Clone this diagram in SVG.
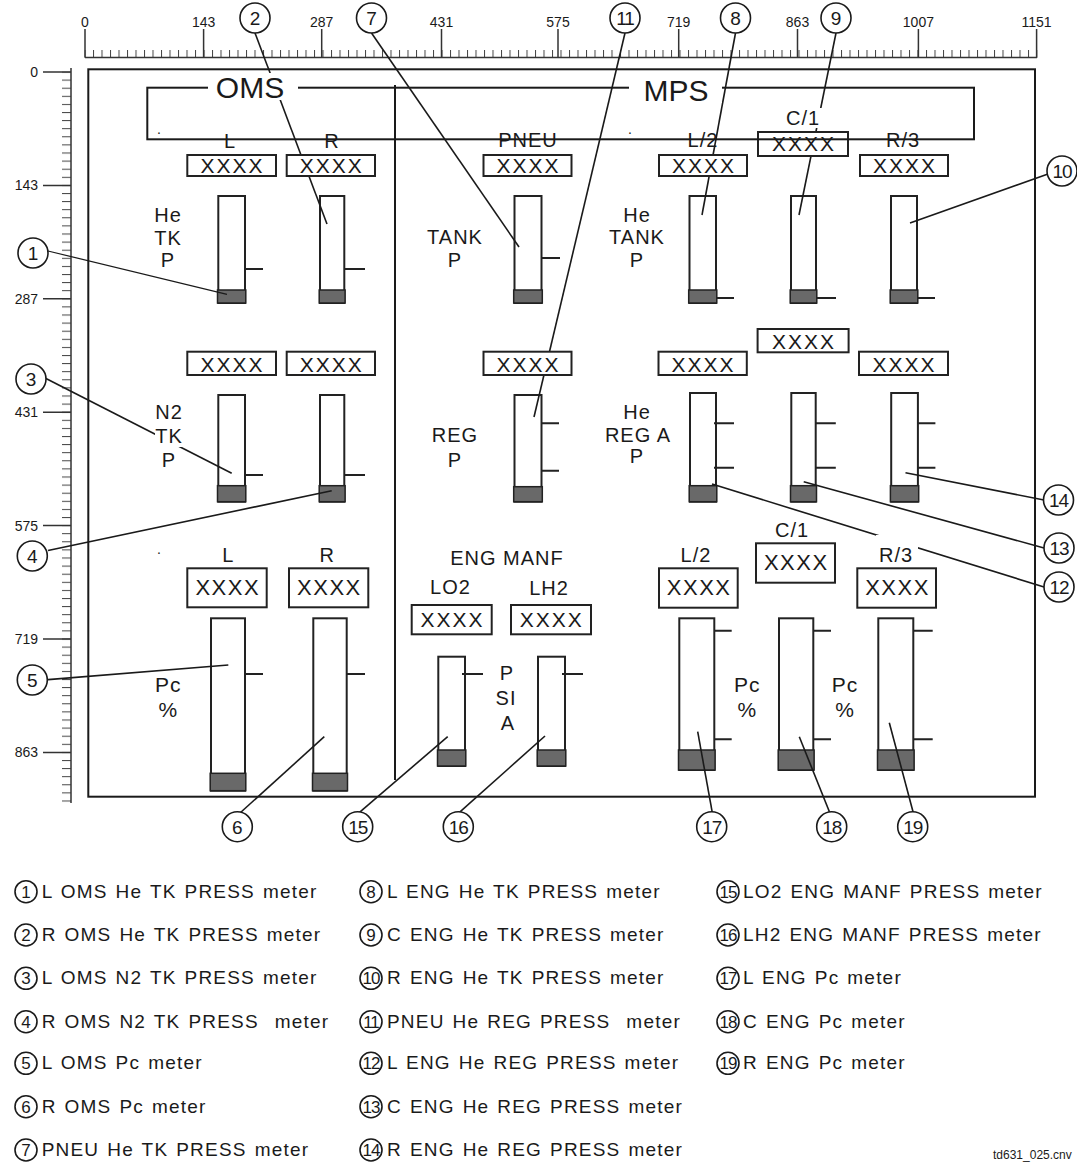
<svg xmlns="http://www.w3.org/2000/svg" width="1077" height="1164" viewBox="0 0 1077 1164">
<style>
.t{font-family:"Liberation Sans",Arial,sans-serif;fill:#1a1a1a}
.rl{font-size:14px;text-anchor:middle}
.rv{font-size:14px;text-anchor:end}
.lb{font-size:20px;text-anchor:middle;letter-spacing:1px}
.big{font-size:30px;text-anchor:middle}
.xx{font-size:21px;text-anchor:middle;letter-spacing:2px}
.xl{font-size:22px;text-anchor:middle;letter-spacing:1.5px}
.cn{font-size:19px;text-anchor:middle}
.cs{font-size:17px;text-anchor:middle;letter-spacing:-1px}
.lg{font-size:19px;letter-spacing:1.2px;word-spacing:1.5px;white-space:pre}
.fr{fill:none;stroke:#1a1a1a;stroke-width:2}
.m{fill:#fff;stroke:#222;stroke-width:2}
.d{fill:#696969;stroke:#222;stroke-width:1.5}
.bx{fill:#fff;stroke:#222;stroke-width:2}
.tk{stroke:#222;stroke-width:2}
.ld{stroke:#1a1a1a;stroke-width:1.6;fill:none}
.c{fill:#fff;stroke:#1a1a1a;stroke-width:1.6}
.rk{stroke:#333;stroke-width:1.5}
</style>
<defs>
<pattern id="tkx" patternUnits="userSpaceOnUse" x="84.5" y="0" width="8.5" height="1164"><rect x="0" y="0" width="1" height="1164" fill="#444"/></pattern>
<pattern id="tky" patternUnits="userSpaceOnUse" x="0" y="71.5" width="1077" height="8.1"><rect x="0" y="0" width="1077" height="1" fill="#444"/></pattern>
</defs>
<rect width="1077" height="1164" fill="#fff"/>

<g id="ruler-top">
<rect x="84.5" y="50" width="953" height="8" fill="url(#tkx)"/>
<path class="rk" d="M85 57.5H1037 M85 29V57.5 M203.6 29V57.5 M321.7 29V57.5 M441.5 29V57.5 M558 29V57.5 M678.7 29V57.5 M797.5 29V57.5 M918.4 29V57.5 M1036.6 29V57.5"/>
<text class="t rl" x="85" y="27">0</text>
<text class="t rl" x="203.6" y="27">143</text>
<text class="t rl" x="321.7" y="27">287</text>
<text class="t rl" x="441.5" y="27">431</text>
<text class="t rl" x="558" y="27">575</text>
<text class="t rl" x="678.7" y="27">719</text>
<text class="t rl" x="797.5" y="27">863</text>
<text class="t rl" x="918.4" y="27">1007</text>
<text class="t rl" x="1036.6" y="27">1151</text>
</g>

<g id="ruler-left">
<rect x="62" y="71.5" width="9" height="731" fill="url(#tky)"/>
<path class="rk" d="M71 68V803 M43 72H71 M43 185.4H71 M43 298.8H71 M43 412.2H71 M43 525.6H71 M43 639H71 M43 752.4H71"/>
<text class="t rv" x="38" y="77">0</text>
<text class="t rv" x="38" y="190.4">143</text>
<text class="t rv" x="38" y="303.8">287</text>
<text class="t rv" x="38" y="417.2">431</text>
<text class="t rv" x="38" y="530.6">575</text>
<text class="t rv" x="38" y="644">719</text>
<text class="t rv" x="38" y="757.4">863</text>
</g>

<g id="panel">
<rect class="fr" x="88.3" y="69.3" width="946.7" height="727.4"/>
<line class="fr" x1="395" y1="85" x2="395" y2="780"/>
</g>

<g id="meters">
<g id="oms-he-l"><rect class="m" x="218.3" y="196" width="26.7" height="107"/><rect class="d" x="217.5" y="290" width="28.3" height="13"/><path class="tk" d="M245 269H263"/></g>
<g id="oms-he-r"><rect class="m" x="320" y="196" width="24.3" height="107"/><rect class="d" x="319.2" y="290" width="25.9" height="13"/><path class="tk" d="M344.3 269H365"/></g>
<g id="oms-n2-l"><rect class="m" x="218.3" y="395" width="26.7" height="106.7"/><rect class="d" x="217.5" y="485.7" width="28.3" height="16"/><path class="tk" d="M245 475H263"/></g>
<g id="oms-n2-r"><rect class="m" x="320" y="395" width="24.3" height="106.7"/><rect class="d" x="319.2" y="485.7" width="25.9" height="16"/><path class="tk" d="M344.3 475H365"/></g>
<g id="pneu-tank"><rect class="m" x="514.5" y="196" width="27" height="107"/><rect class="d" x="513.7" y="290" width="28.6" height="13"/><path class="tk" d="M541.5 258H560"/></g>
<g id="pneu-reg"><rect class="m" x="514.5" y="395" width="27" height="106.7"/><rect class="d" x="513.7" y="486.7" width="28.6" height="15"/><path class="tk" d="M541.5 423.3H559 M541.5 470.7H559"/></g>
<g id="mps-he-l"><rect class="m" x="689.5" y="196" width="26.5" height="107"/><rect class="d" x="688.7" y="290" width="28.1" height="13"/><path class="tk" d="M716 298H734"/></g>
<g id="mps-he-c"><rect class="m" x="791" y="196" width="25" height="107"/><rect class="d" x="790.2" y="290" width="26.6" height="13"/><path class="tk" d="M816 298H836"/></g>
<g id="mps-he-r"><rect class="m" x="891" y="196" width="26" height="107"/><rect class="d" x="890.2" y="290" width="27.6" height="13"/><path class="tk" d="M917 298H935"/></g>
<g id="mps-reg-l"><rect class="m" x="690" y="393" width="26" height="108.7"/><rect class="d" x="689.2" y="485.7" width="27.6" height="16"/><path class="tk" d="M714 423.3H734 M714 467.7H734"/></g>
<g id="mps-reg-c"><rect class="m" x="791.3" y="393" width="24.4" height="108.7"/><rect class="d" x="790.5" y="485.7" width="26" height="16"/><path class="tk" d="M815.7 423.3H835.8 M815.7 467.7H835.8"/></g>
<g id="mps-reg-r"><rect class="m" x="891.2" y="393" width="26.7" height="108.7"/><rect class="d" x="890.4" y="485.7" width="28.3" height="16"/><path class="tk" d="M918 423.3H935.4 M918 467.7H935.4"/></g>
<g id="oms-pc-l"><rect class="m" x="211" y="618.3" width="34" height="172.4"/><rect class="d" x="210.2" y="773.3" width="35.6" height="17.4"/><path class="tk" d="M245 674H263"/></g>
<g id="oms-pc-r"><rect class="m" x="313.3" y="618.3" width="33.4" height="172.4"/><rect class="d" x="312.5" y="773.3" width="35" height="17.4"/><path class="tk" d="M346.7 674H365"/></g>
<g id="manf-lo2"><rect class="m" x="438.3" y="656.7" width="26.7" height="109.3"/><rect class="d" x="437.5" y="750" width="28.3" height="16"/><path class="tk" d="M462 674H483"/></g>
<g id="manf-lh2"><rect class="m" x="538" y="656.7" width="27" height="109.3"/><rect class="d" x="537.2" y="750" width="28.6" height="16"/><path class="tk" d="M562 674H583"/></g>
<g id="mps-pc-l"><rect class="m" x="679.3" y="618.3" width="35" height="151.7"/><rect class="d" x="678.5" y="750" width="36.6" height="20"/><path class="tk" d="M714.3 630.7H731.7 M714.3 739.3H731.7"/></g>
<g id="mps-pc-c"><rect class="m" x="779" y="618.3" width="34.3" height="151.7"/><rect class="d" x="778.2" y="750" width="35.9" height="20"/><path class="tk" d="M813.3 630.7H831 M813.3 739.3H831"/></g>
<g id="mps-pc-r"><rect class="m" x="878.3" y="618.3" width="35" height="151.7"/><rect class="d" x="877.5" y="750" width="36.6" height="20"/><path class="tk" d="M913.3 630.7H932.7 M913.3 739.3H932.7"/></g>
</g>

<g id="connectors">
<path class="ld" d="M255 33L327 224"/>
<path class="ld" d="M371.5 33L519 247"/>
<path class="ld" d="M625 33L534 417"/>
<path class="ld" d="M735.5 33L702 215"/>
<path class="ld" d="M836 33L799 215"/>
<path class="ld" d="M48 251L227 294.3" style="stroke-width:1.2"/>
<path class="ld" d="M45 378L231.7 473.3"/>
<path class="ld" d="M48 550.5L331.7 490.7"/>
<path class="ld" d="M48 679.6L228.3 665"/>
<path class="ld" d="M240 813L324.3 736.7"/>
<path class="ld" d="M358.3 813.3L447.7 736.7"/>
<path class="ld" d="M458.3 813.3L545 736"/>
<path class="ld" d="M712.3 812.7L697.7 731.7"/>
<path class="ld" d="M830 813.3L799.3 736.7"/>
<path class="ld" d="M913.3 812.7L889.3 722.7"/>
<path class="ld" d="M1048 174L910 223"/>
<path class="ld" d="M712 484L1044 587"/>
<path class="ld" d="M803.7 481.7L1044 548"/>
<path class="ld" d="M905.5 472.7L1044 500"/>
</g>

<g id="displays">
<g id="disp-oms-he-l"><rect class="bx" x="187.3" y="155" width="88.7" height="21"/><text class="t xx" x="232.6" y="173.3">XXXX</text></g>
<g id="disp-oms-he-r"><rect class="bx" x="286.7" y="155" width="88.3" height="21"/><text class="t xx" x="331.8" y="173.3">XXXX</text></g>
<g id="disp-oms-n2-l"><rect class="bx" x="187.3" y="351.7" width="88.7" height="23.3"/><text class="t xx" x="232.6" y="371.5">XXXX</text></g>
<g id="disp-oms-n2-r"><rect class="bx" x="286.7" y="351.7" width="88.3" height="23.3"/><text class="t xx" x="331.8" y="371.5">XXXX</text></g>
<g id="disp-pneu-tank"><rect class="bx" x="483.5" y="155" width="88" height="21"/><text class="t xx" x="528.5" y="173.3">XXXX</text></g>
<g id="disp-pneu-reg"><rect class="bx" x="483.5" y="351.7" width="88" height="23.3"/><text class="t xx" x="528.5" y="371.5">XXXX</text></g>
<g id="disp-mps-he-l"><rect class="bx" x="659" y="155" width="88" height="21"/><text class="t xx" x="704" y="173.3">XXXX</text></g>
<g id="disp-mps-he-c"><rect class="bx" x="758" y="132" width="90" height="24"/><text class="t xx" x="804" y="150.5">XXXX</text></g>
<g id="disp-mps-he-r"><rect class="bx" x="860" y="155" width="88" height="21"/><text class="t xx" x="905" y="173.3">XXXX</text></g>
<g id="disp-mps-reg-l"><rect class="bx" x="658.5" y="351.7" width="88.3" height="23.3"/><text class="t xx" x="703.6" y="371.5">XXXX</text></g>
<g id="disp-mps-reg-c"><rect class="bx" x="757.6" y="329" width="91" height="23.3"/><text class="t xx" x="804" y="348.5">XXXX</text></g>
<g id="disp-mps-reg-r"><rect class="bx" x="859" y="351.7" width="89" height="23.3"/><text class="t xx" x="904.5" y="371.5">XXXX</text></g>
<g id="disp-oms-pc-l"><rect class="bx" x="187.3" y="568.3" width="79.4" height="39"/><text class="t xl" x="227.8" y="595">XXXX</text></g>
<g id="disp-oms-pc-r"><rect class="bx" x="289" y="568.3" width="79.3" height="39"/><text class="t xl" x="329.4" y="595">XXXX</text></g>
<g id="disp-manf-lo2"><rect class="bx" x="411.7" y="605" width="80" height="29.3"/><text class="t xx" x="452.5" y="626.7">XXXX</text></g>
<g id="disp-manf-lh2"><rect class="bx" x="511" y="605" width="80" height="29.3"/><text class="t xx" x="551.8" y="626.7">XXXX</text></g>
<g id="disp-mps-pc-l"><rect class="bx" x="659" y="568.3" width="78.7" height="39.4"/><text class="t xl" x="699.2" y="595">XXXX</text></g>
<g id="disp-mps-pc-c"><rect class="bx" x="756" y="543.3" width="79" height="39.4"/><text class="t xl" x="796.3" y="570">XXXX</text></g>
<g id="disp-mps-pc-r"><rect class="bx" x="857.3" y="568.3" width="78.7" height="39.4"/><text class="t xl" x="897.5" y="595">XXXX</text></g>
</g>

<g id="labels">
<rect x="783" y="108" width="40" height="20" fill="#fff"/>
<rect x="155" y="432" width="30" height="15" fill="#fff"/>
<rect x="876" y="535" width="42" height="29" fill="#fff"/>
<text class="t lb" x="230" y="148">L</text>
<text class="t lb" x="332" y="148">R</text>
<text class="t lb" x="168" y="222">He</text>
<text class="t lb" x="168" y="245">TK</text>
<text class="t lb" x="168" y="267">P</text>
<text class="t lb" x="528" y="147">PNEU</text>
<text class="t lb" x="455" y="244">TANK</text>
<text class="t lb" x="455" y="267">P</text>
<text class="t lb" x="703" y="147">L/2</text>
<text class="t lb" x="803" y="125">C/1</text>
<text class="t lb" x="903" y="147">R/3</text>
<text class="t lb" x="637" y="222">He</text>
<text class="t lb" x="637" y="244">TANK</text>
<text class="t lb" x="637" y="267">P</text>
<text class="t lb" x="169" y="419">N2</text>
<text class="t lb" x="169" y="443">TK</text>
<text class="t lb" x="169" y="467">P</text>
<text class="t lb" x="455" y="442">REG</text>
<text class="t lb" x="455" y="467">P</text>
<text class="t lb" x="637" y="419">He</text>
<text class="t lb" x="638" y="442">REG A</text>
<text class="t lb" x="637" y="463">P</text>
<text class="t" x="157" y="134" font-size="14">.</text>
<text class="t" x="628" y="134" font-size="14">.</text>
<text class="t" x="157" y="554" font-size="14">.</text>
<text class="t lb" x="228.3" y="561.7">L</text>
<text class="t lb" x="327.3" y="561.7">R</text>
<text class="t lb" x="168.3" y="691.7" style="font-size:21px">Pc</text>
<text class="t lb" x="168.3" y="716.7" style="font-size:21px">%</text>
<text class="t lb" x="507" y="565">ENG MANF</text>
<text class="t lb" x="450.5" y="594">LO2</text>
<text class="t lb" x="549" y="595">LH2</text>
<text class="t lb" x="507" y="680">P</text>
<text class="t lb" x="506" y="705">SI</text>
<text class="t lb" x="508" y="730">A</text>
<text class="t lb" x="696" y="561.7">L/2</text>
<text class="t lb" x="792" y="536.7">C/1</text>
<text class="t lb" x="896" y="561.7">R/3</text>
<text class="t lb" x="747.3" y="691.7" style="font-size:21px">Pc</text>
<text class="t lb" x="747.3" y="716.7" style="font-size:21px">%</text>
<text class="t lb" x="845" y="691.7" style="font-size:21px">Pc</text>
<text class="t lb" x="845" y="716.7" style="font-size:21px">%</text>
</g>

<g id="bracket">
<rect class="fr" x="147.3" y="87.7" width="826.7" height="51.6"/>
<rect x="208" y="73" width="90" height="27" fill="#fff"/>
<rect x="629" y="73" width="93" height="30" fill="#fff"/>
<text class="t big" x="250" y="98">OMS</text>
<text class="t big" x="676" y="101">MPS</text>
</g>

<g id="callouts">
<g id="c1"><circle class="c" cx="33" cy="253" r="15"/><text class="t cn" x="33" y="260">1</text></g>
<g id="c2"><circle class="c" cx="255" cy="18" r="15"/><text class="t cn" x="255" y="25">2</text></g>
<g id="c3"><circle class="c" cx="31" cy="379" r="15"/><text class="t cn" x="31" y="386">3</text></g>
<g id="c4"><circle class="c" cx="32.3" cy="556" r="15"/><text class="t cn" x="32.3" y="563">4</text></g>
<g id="c5"><circle class="c" cx="32.3" cy="680" r="15"/><text class="t cn" x="32.3" y="687">5</text></g>
<g id="c6"><circle class="c" cx="237.3" cy="826.7" r="15"/><text class="t cn" x="237.3" y="833.7">6</text></g>
<g id="c7"><circle class="c" cx="371.5" cy="18" r="15"/><text class="t cn" x="371.5" y="25">7</text></g>
<g id="c8"><circle class="c" cx="735.5" cy="18" r="15"/><text class="t cn" x="735.5" y="25">8</text></g>
<g id="c9"><circle class="c" cx="836" cy="18" r="15"/><text class="t cn" x="836" y="25">9</text></g>
<g id="c10"><circle class="c" cx="1062" cy="171" r="15"/><text class="t cn" x="1062" y="178" style="letter-spacing:-1px">10</text></g>
<g id="c11"><circle class="c" cx="625" cy="18" r="15"/><text class="t cn" x="625" y="25" style="letter-spacing:-1px">11</text></g>
<g id="c12"><circle class="c" cx="1059" cy="587" r="15"/><text class="t cn" x="1059" y="594" style="letter-spacing:-1px">12</text></g>
<g id="c13"><circle class="c" cx="1059" cy="548" r="15"/><text class="t cn" x="1059" y="555" style="letter-spacing:-1px">13</text></g>
<g id="c14"><circle class="c" cx="1058.5" cy="500" r="15"/><text class="t cn" x="1058.5" y="507" style="letter-spacing:-1px">14</text></g>
<g id="c15"><circle class="c" cx="357.7" cy="826.7" r="15"/><text class="t cn" x="357.7" y="833.7" style="letter-spacing:-1px">15</text></g>
<g id="c16"><circle class="c" cx="458.3" cy="826.7" r="15"/><text class="t cn" x="458.3" y="833.7" style="letter-spacing:-1px">16</text></g>
<g id="c17"><circle class="c" cx="711.7" cy="826.7" r="15"/><text class="t cn" x="711.7" y="833.7" style="letter-spacing:-1px">17</text></g>
<g id="c18"><circle class="c" cx="831.7" cy="826.7" r="15"/><text class="t cn" x="831.7" y="833.7" style="letter-spacing:-1px">18</text></g>
<g id="c19"><circle class="c" cx="912.7" cy="826.7" r="15"/><text class="t cn" x="912.7" y="833.7" style="letter-spacing:-1px">19</text></g>
</g>

<g id="legend">
<g id="lg1"><circle class="c" cx="26" cy="891.7" r="11"/><text class="t cn" style="font-size:17px" x="26" y="897.7">1</text><text class="t lg" x="41.7" y="897.7">L OMS He TK PRESS meter</text></g>
<g id="lg2"><circle class="c" cx="26" cy="935" r="11"/><text class="t cn" style="font-size:17px" x="26" y="941">2</text><text class="t lg" x="41.7" y="941">R OMS He TK PRESS meter</text></g>
<g id="lg3"><circle class="c" cx="26" cy="978.3" r="11"/><text class="t cn" style="font-size:17px" x="26" y="984.3">3</text><text class="t lg" x="41.7" y="984.3">L OMS N2 TK PRESS meter</text></g>
<g id="lg4"><circle class="c" cx="26" cy="1021.7" r="11"/><text class="t cn" style="font-size:17px" x="26" y="1027.7">4</text><text class="t lg" x="41.7" y="1027.7">R OMS N2 TK PRESS  meter</text></g>
<g id="lg5"><circle class="c" cx="26" cy="1063.3" r="11"/><text class="t cn" style="font-size:17px" x="26" y="1069.3">5</text><text class="t lg" x="41.7" y="1069.3">L OMS Pc meter</text></g>
<g id="lg6"><circle class="c" cx="26" cy="1106.7" r="11"/><text class="t cn" style="font-size:17px" x="26" y="1112.7">6</text><text class="t lg" x="41.7" y="1112.7">R OMS Pc meter</text></g>
<g id="lg7"><circle class="c" cx="26" cy="1150" r="11"/><text class="t cn" style="font-size:17px" x="26" y="1156">7</text><text class="t lg" x="41.7" y="1156">PNEU He TK PRESS meter</text></g>
<g id="lg8"><circle class="c" cx="371" cy="891.7" r="11"/><text class="t cn" style="font-size:17px" x="371" y="897.7">8</text><text class="t lg" x="387" y="897.7">L ENG He TK PRESS meter</text></g>
<g id="lg9"><circle class="c" cx="371" cy="935" r="11"/><text class="t cn" style="font-size:17px" x="371" y="941">9</text><text class="t lg" x="387" y="941">C ENG He TK PRESS meter</text></g>
<g id="lg10"><circle class="c" cx="371" cy="978.3" r="11"/><text class="t cs" x="371" y="984.3">10</text><text class="t lg" x="387" y="984.3">R ENG He TK PRESS meter</text></g>
<g id="lg11"><circle class="c" cx="371" cy="1021.7" r="11"/><text class="t cs" x="371" y="1027.7">11</text><text class="t lg" x="387" y="1027.7">PNEU He REG PRESS  meter</text></g>
<g id="lg12"><circle class="c" cx="371" cy="1063.3" r="11"/><text class="t cs" x="371" y="1069.3">12</text><text class="t lg" x="387" y="1069.3">L ENG He REG PRESS meter</text></g>
<g id="lg13"><circle class="c" cx="371" cy="1106.7" r="11"/><text class="t cs" x="371" y="1112.7">13</text><text class="t lg" x="387" y="1112.7">C ENG He REG PRESS meter</text></g>
<g id="lg14"><circle class="c" cx="371" cy="1150" r="11"/><text class="t cs" x="371" y="1156">14</text><text class="t lg" x="387" y="1156">R ENG He REG PRESS meter</text></g>
<g id="lg15"><circle class="c" cx="728" cy="891.7" r="11"/><text class="t cs" x="728" y="897.7">15</text><text class="t lg" x="743" y="897.7">LO2 ENG MANF PRESS meter</text></g>
<g id="lg16"><circle class="c" cx="728" cy="935" r="11"/><text class="t cs" x="728" y="941">16</text><text class="t lg" x="743" y="941">LH2 ENG MANF PRESS meter</text></g>
<g id="lg17"><circle class="c" cx="728" cy="978.3" r="11"/><text class="t cs" x="728" y="984.3">17</text><text class="t lg" x="743" y="984.3">L ENG Pc meter</text></g>
<g id="lg18"><circle class="c" cx="728" cy="1021.7" r="11"/><text class="t cs" x="728" y="1027.7">18</text><text class="t lg" x="743" y="1027.7">C ENG Pc meter</text></g>
<g id="lg19"><circle class="c" cx="728" cy="1063.3" r="11"/><text class="t cs" x="728" y="1069.3">19</text><text class="t lg" x="743" y="1069.3">R ENG Pc meter</text></g>
</g>

<text class="t" x="993" y="1159" font-size="12">td631_025.cnv</text>
</svg>
